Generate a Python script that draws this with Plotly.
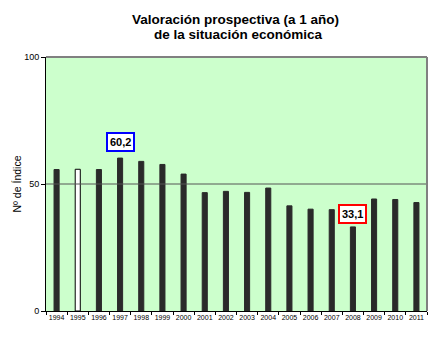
import plotly.graph_objects as go

years = ["1994", "1995", "1996", "1997", "1998", "1999", "2000", "2001", "2002",
         "2003", "2004", "2005", "2006", "2007", "2008", "2009", "2010", "2011"]
values = [55.7, 55.8, 55.7, 60.2, 58.9, 57.7, 53.9, 46.6, 47.1,
          46.7, 48.4, 41.4, 40.1, 39.9, 33.1, 44.1, 43.9, 42.7]
highlight_year = "1995"
max_label = ("1997", "60,2", 66.5)
min_label = ("2008", "33,1", 38.0)
title_line1 = "Valoración prospectiva (a 1 año)"
title_line2 = "de la situación económica"
y_title = "Nº de Índice"

bar_colors = ["#FFFFFF" if y == highlight_year else "#2A2A2A" for y in years]
line_colors = ["#000000" if y == highlight_year else "#2A2A2A" for y in years]

FONT = "Liberation Sans, Arial, sans-serif"

fig = go.Figure()
fig.add_trace(go.Bar(
    x=years, y=values,
    marker=dict(color=bar_colors, line=dict(color=line_colors, width=1)),
    width=0.24,
    hoverinfo="x+y",
))

fig.add_hline(y=50, line=dict(color="#555555", width=1))

for (yr, txt, ypos), col in [(max_label, "#0000FF"), (min_label, "#FF0000")]:
    fig.add_annotation(
        x=years.index(yr), y=ypos, text="<b>%s</b>" % txt, showarrow=False,
        font=dict(family=FONT, size=11, color="#000000"),
        bgcolor="#FFFFFF", bordercolor=col, borderwidth=2, borderpad=2,
    )

# second title line (tighter line spacing than plotly's default <br>)
fig.add_annotation(
    xref="paper", yref="paper", x=0.506, y=1.088, xanchor="center", yanchor="middle",
    text="<b>%s</b>" % title_line2, showarrow=False,
    font=dict(family=FONT, size=13.5, color="#000000"),
)

fig.update_layout(
    width=436, height=348,
    margin=dict(l=46, r=9, t=57, b=37),
    paper_bgcolor="#FFFFFF",
    plot_bgcolor="#CCFFCC",
    showlegend=False,
    title=dict(
        text="<b>%s</b>" % title_line1,
        x=0.54, xanchor="center", y=0.945, yanchor="middle",
        font=dict(family=FONT, size=13.5, color="#000000"),
    ),
    font=dict(family=FONT, color="#000000"),
    bargap=0.75,
)

fig.update_xaxes(
    type="category",
    range=[-0.5, len(years) - 0.5],
    showline=True, linecolor="#000000", linewidth=1,
    mirror=False,
    ticks="outside", tickson="boundaries", ticklen=3, tickcolor="#000000",
    tickfont=dict(family=FONT, size=7, color="#000000"),
    tickangle=0,
    showgrid=False,
)
fig.update_yaxes(
    range=[0, 100],
    tickvals=[0, 50, 100],
    showline=True, linecolor="#000000", linewidth=1,
    ticks="outside", ticklen=4, tickcolor="#000000",
    tickfont=dict(family=FONT, size=9, color="#000000"),
    showgrid=False, zeroline=False,
    title=dict(text=y_title, font=dict(family=FONT, size=10.5, color="#000000"), standoff=0),
)

# grey top/right frame of plot area
fig.add_shape(type="line", xref="paper", yref="paper", x0=0, x1=1, y0=1, y1=1,
              line=dict(color="#808080", width=2))
fig.add_shape(type="line", xref="paper", yref="paper", x0=1, x1=1, y0=0, y1=1,
              line=dict(color="#808080", width=2))

fig.write_html("out.html")
